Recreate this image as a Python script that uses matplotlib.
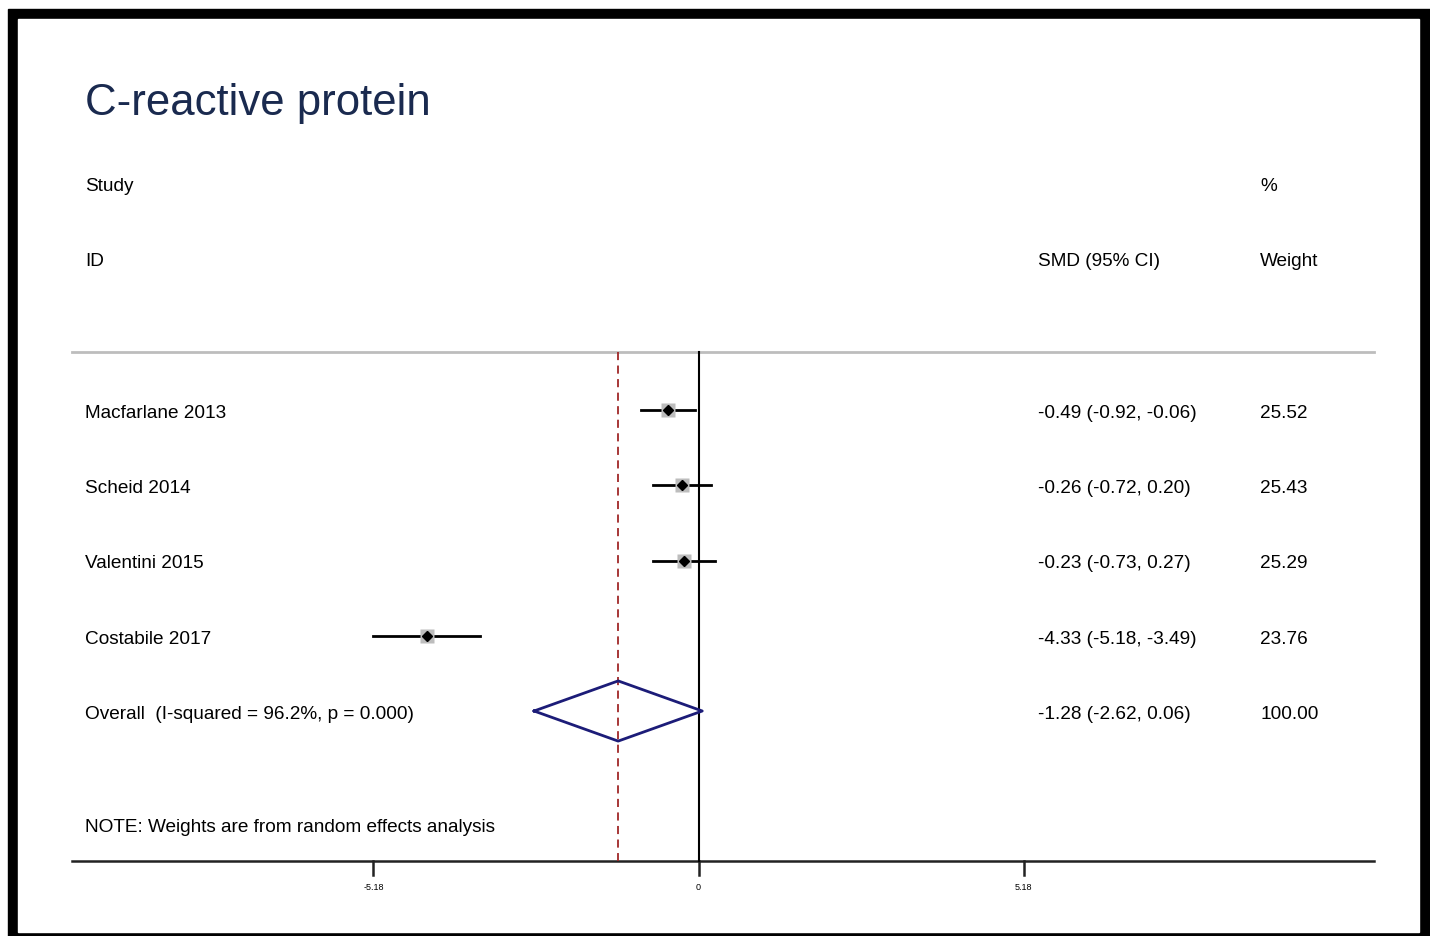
import matplotlib.pyplot as plt
import matplotlib.patches as mpatches
import numpy as np

# dados do forest plot
estudos = ['Macfarlane 2013', 'Scheid 2014', 'Valentini 2015', 'Costabile 2017']
smd = [-0.49, -0.26, -0.23, -4.33]
ci_inf = [-0.92, -0.72, -0.73, -5.18]
ci_sup = [-0.06, 0.20, 0.27, -3.49]
pesos = [25.52, 25.43, 25.29, 23.76]

geral_smd = -1.28
geral_inf = -2.62
geral_sup = 0.06
geral_peso = 100.00
geral_rotulo = 'Overall  (I-squared = 96.2%, p = 0.000)'

ticks = [-5.18, 0, 5.18]

W, H = 1430, 937
fig = plt.figure(figsize=(W / 100, H / 100), dpi=100)
plt.rcParams['font.family'] = ['Liberation Sans', 'DejaVu Sans']

# moldura preta
fig.patches.append(mpatches.Rectangle((8 / W, 0), 1 - 8 / W, (H - 10) / H,
                                      transform=fig.transFigure, color='black', zorder=-2))
fig.patches.append(mpatches.Rectangle((18 / W, 4 / H), (1419 - 18) / W, (933 - 20) / H,
                                      transform=fig.transFigure, color='white', zorder=-1))

ax = fig.add_axes([0, 0, 1, 1])
ax.set_zorder(2)
ax.patch.set_alpha(0)
escala = 62.75  # px por unidade
x0 = 698.5
ax.set_xlim(-x0 / escala, (W - x0) / escala)
passo = 75.25
y_lin0 = 411
ax.set_ylim((H - y_lin0) / passo, -y_lin0 / passo)
ax.axis('off')

def py(p):
    return (p - y_lin0) / passo

def px(p):
    return (p - x0) / escala

linhas = np.arange(len(estudos))
y_geral = len(estudos)

# linhas horizontais
ax.plot([px(72), px(1374)], [py(353), py(353)], color='#bdbdbd', lw=2, zorder=1)
ax.plot([px(72), px(1374)], [py(862), py(862)], color='#222222', lw=1.8, zorder=1)
for t in ticks:
    ax.plot([t, t], [py(862), py(876)], color='#222222', lw=1.8)
    ax.text(t, py(888), f'{t:g}', ha='center', va='center', fontsize=6.5)

# linha nula e linha do efeito geral
ax.plot([0, 0], [py(353), py(862)], color='black', lw=1.5, zorder=2)
ax.plot([geral_smd, geral_smd], [py(353), py(862)], color='#a02828', lw=1.3,
        ls=(0, (4.5, 3)), zorder=2)

# estudos
for i in linhas:
    ax.plot([ci_inf[i], ci_sup[i]], [i, i], color='black', lw=2, zorder=3)
    ax.plot(smd[i], i, marker='s', ms=np.sqrt(pesos[i]) * 2.0, color='#bdbdbd',
            mec='none', zorder=3)
    ax.plot(smd[i], i, marker='D', ms=5, color='black', zorder=4)

# diamante geral
dx = [geral_inf, geral_smd, geral_sup, geral_smd, geral_inf]
dy = [y_geral, y_geral - 0.4, y_geral, y_geral + 0.4, y_geral]
ax.plot(dx, dy, color='#1c1c78', lw=2, zorder=3)

# textos
tr = ax.get_yaxis_transform()
fs = 13.7
dy_txt = 2.5 / passo
fig.text(85 / W, 1 - 104 / H, 'C-reactive protein', fontsize=31.5, color='#1a2a4f',
         ha='left', va='center')
fig.text(85 / W, 1 - 186.5 / H, 'Study', fontsize=fs, va='center')
fig.text(85 / W, 1 - 261.5 / H, 'ID', fontsize=fs, va='center')
fig.text(1038 / W, 1 - 261.5 / H, 'SMD (95% CI)', fontsize=fs, va='center')
fig.text(1260 / W, 1 - 186.5 / H, '%', fontsize=fs, va='center')
fig.text(1260 / W, 1 - 261.5 / H, 'Weight', fontsize=fs, va='center')

for i in linhas:
    ax.text(85 / W, i + dy_txt, estudos[i], transform=tr, fontsize=fs, va='center')
    ax.text(1038 / W, i + dy_txt, f'{smd[i]:.2f} ({ci_inf[i]:.2f}, {ci_sup[i]:.2f})',
            transform=tr, fontsize=fs, va='center')
    ax.text(1260 / W, i + dy_txt, f'{pesos[i]:.2f}', transform=tr, fontsize=fs, va='center')

ax.text(85 / W, y_geral + dy_txt, geral_rotulo, transform=tr, fontsize=fs, va='center')
ax.text(1038 / W, y_geral + dy_txt, f'{geral_smd:.2f} ({geral_inf:.2f}, {geral_sup:.2f})',
        transform=tr, fontsize=fs, va='center')
ax.text(1260 / W, y_geral + dy_txt, f'{geral_peso:.2f}', transform=tr, fontsize=fs, va='center')

fig.text(85 / W, 1 - 827.5 / H, 'NOTE: Weights are from random effects analysis',
         fontsize=fs, va='center')

fig.savefig('out.png', dpi=100, facecolor='white')
